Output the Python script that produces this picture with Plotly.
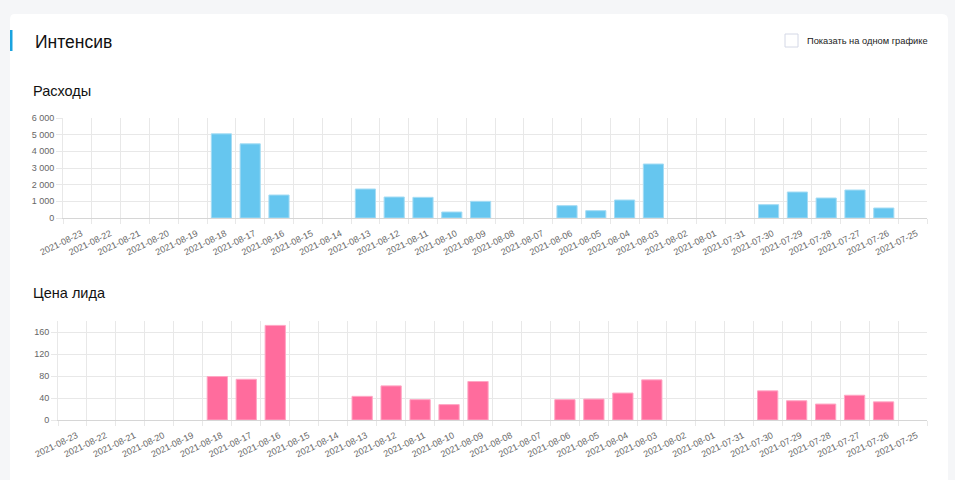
import plotly.graph_objects as go

# Dates (categories, newest first, as in the source dashboard)
dates = [
    "2021-08-23", "2021-08-22", "2021-08-21", "2021-08-20", "2021-08-19",
    "2021-08-18", "2021-08-17", "2021-08-16", "2021-08-15", "2021-08-14",
    "2021-08-13", "2021-08-12", "2021-08-11", "2021-08-10", "2021-08-09",
    "2021-08-08", "2021-08-07", "2021-08-06", "2021-08-05", "2021-08-04",
    "2021-08-03", "2021-08-02", "2021-08-01", "2021-07-31", "2021-07-30",
    "2021-07-29", "2021-07-28", "2021-07-27", "2021-07-26", "2021-07-25",
]

# Расходы (spend)
expenses = [
    0, 0, 0, 0, 0,
    5050, 4450, 1380, 0, 0,
    1740, 1260, 1240, 360, 1000,
    0, 0, 740, 440, 1080,
    3240, 0, 0, 0, 800,
    1560, 1200, 1680, 600, 0,
]

# Цена лида (cost per lead)
lead_price = [
    0, 0, 0, 0, 0,
    79, 74, 172, 0, 0,
    43, 62, 37, 28, 70,
    0, 0, 37, 38, 49,
    73, 0, 0, 0, 53,
    35, 29, 45, 33, 0,
]

expense_ticks = [0, 1000, 2000, 3000, 4000, 5000, 6000]
price_ticks = [0, 40, 80, 120, 160]

W, H = 955, 480
grid = "#e8e8e8"
axis_font = dict(family="Liberation Sans, Arial, sans-serif", size=9, color="#666666")


def no_zeros(values):
    # empty days draw no bar at all (not even the outline)
    return [v if v else None for v in values]


fig = go.Figure()

fig.add_trace(go.Bar(
    x=dates, y=no_zeros(expenses), xaxis="x", yaxis="y",
    marker=dict(color="#66c6ef", line=dict(color="#a5dcf4", width=1)),
    hoverinfo="x+y",
))
fig.add_trace(go.Bar(
    x=dates, y=no_zeros(lead_price), xaxis="x2", yaxis="y2",
    marker=dict(color="#ff6c9d", line=dict(color="#ffa6c4", width=1)),
    hoverinfo="x+y",
))


def xaxis_style(x0, x1, anchor):
    return dict(
        domain=[x0 / W, x1 / W], anchor=anchor, type="category",
        tickson="boundaries", ticks="outside", ticklen=5, tickcolor=grid,
        showgrid=True, gridcolor=grid, gridwidth=1,
        showline=True, linecolor="#d6d6d6", linewidth=1,
        tickangle=-26, tickfont=axis_font, fixedrange=True,
        ticklabelstandoff=6, ticklabelshift=4,
        automargin=False,
    )


def yaxis_style(y_top, y_bottom, anchor, rng, ticks):
    return dict(
        domain=[(H - y_bottom) / H, (H - y_top) / H], anchor=anchor,
        range=rng, tickvals=ticks, tickformat=",d",
        ticks="outside", ticklen=6, tickcolor=grid,
        showgrid=True, gridcolor=grid, zeroline=False,
        showline=True, linecolor=grid, linewidth=1,
        tickfont=axis_font, fixedrange=True, automargin=False,
    )


# card background and decorations
shapes = [
    dict(type="path", xref="paper", yref="paper", layer="below",
         path="M {0},{1} L {2},{1} Q {3},{1} {3},{4} L {3},{5} L {6},{5} L {6},{4} Q {6},{1} {0},{1} Z".format(
             14 / W, 1 - 14 / H, 942 / W, 948 / W, 1 - 20 / H, 0, 10 / W),
         fillcolor="white", line=dict(width=0)),
    dict(type="rect", xref="paper", yref="paper", x0=10 / W, x1=12.5 / W,
         y0=1 - 51 / H, y1=1 - 30 / H, fillcolor="#1aa3df", line=dict(width=0)),
    dict(type="rect", xref="paper", yref="paper", x0=785 / W, x1=798 / W,
         y0=1 - 47 / H, y1=1 - 34 / H, fillcolor="white",
         line=dict(color="#d4d8e6", width=1)),
]

text_font = "Liberation Sans, Arial, sans-serif"
annotations = [
    dict(text="Интенсив", x=33 / W, y=1 - 42 / H, xanchor="left", yanchor="middle",
         font=dict(family=text_font, size=17.5, color="#111111")),
    dict(text="Показать на одном графике", x=805 / W, y=1 - 41 / H,
         xanchor="left", yanchor="middle",
         font=dict(family=text_font, size=9.3, color="#222222")),
    dict(text="Расходы", x=31 / W, y=1 - 91 / H, xanchor="left", yanchor="middle",
         font=dict(family=text_font, size=14.5, color="#111111")),
    dict(text="Цена лида", x=31 / W, y=1 - 293 / H, xanchor="left", yanchor="middle",
         font=dict(family=text_font, size=14.5, color="#111111")),
]
for a in annotations:
    a.update(xref="paper", yref="paper", showarrow=False)

fig.update_layout(
    width=W, height=H,
    margin=dict(l=0, r=0, t=0, b=0, pad=0),
    paper_bgcolor="#f5f6f8",
    plot_bgcolor="rgba(0,0,0,0)",
    separators=", ",
    showlegend=False,
    bargap=0.3,
    xaxis=xaxis_style(63, 927, "y"),
    yaxis=yaxis_style(118, 218, "x", [0, 6000], expense_ticks),
    xaxis2=xaxis_style(58, 927, "y2"),
    yaxis2=yaxis_style(321, 420, "x2", [0, 180], price_ticks),
    shapes=shapes,
    annotations=annotations,
)

# the page body has a default 8px margin; remove it so the figure fills the window
page_fix = "document.body.style.margin='0';document.body.style.overflow='hidden';"

fig.write_html("out.html", config={"displayModeBar": False}, post_script=page_fix)
